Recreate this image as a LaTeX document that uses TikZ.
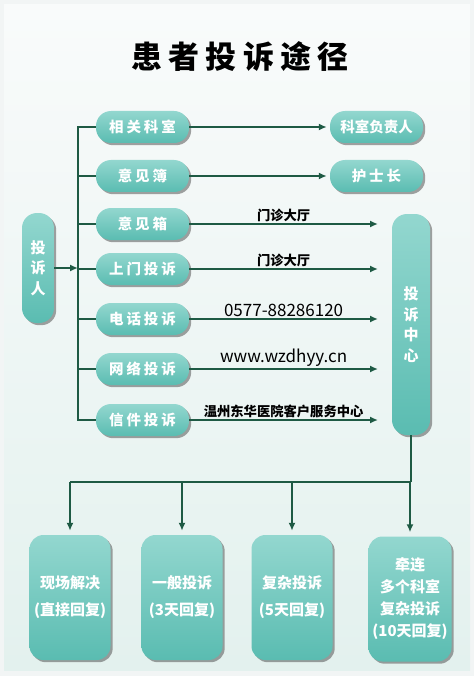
\documentclass[tikz,border=0pt]{standalone}
\usepackage{fontspec}
\setmainfont{Noto Sans CJK SC}
\newfontfamily\widecjk{Noto Sans CJK SC}[LetterSpace=20]
\usetikzlibrary{arrows.meta,shadows}
\definecolor{linkgreen}{HTML}{1E5A44}
\definecolor{tealtop}{HTML}{93D7CF}
\definecolor{tealbot}{HTML}{5ABCB1}
\definecolor{bgtop}{HTML}{F9FBFB}
\definecolor{bgbot}{HTML}{E3F1EE}
\definecolor{bgedge}{HTML}{F2F5F5}
\tikzset{>={Latex[length=8pt,width=7pt]},
    link/.style={draw=linkgreen, line width=1.6pt},
    tealfill/.style={top color=tealtop, bottom color=tealbot, draw=none, text=white,
      drop shadow={shadow xshift=2.2pt, shadow yshift=-2.2pt, fill=black!72}}}

\begin{document}
\begin{tikzpicture}[x=1pt, y=-1pt,
    pill/.style={tealfill, rounded corners=15pt, minimum width=93pt, minimum height=32pt,
      inner sep=0pt, font=\widecjk\bfseries\fontsize{14.5}{17}\selectfont},
    bar/.style={tealfill, rounded corners=15pt, inner sep=0pt, align=center,
      font=\bfseries\fontsize{15}{20.5}\selectfont},
    box/.style={tealfill, rounded corners=14pt, minimum width=81pt, minimum height=125pt,
      inner sep=0pt, align=center, font=\bfseries\fontsize{15}{22}\selectfont},
    tag/.style={text=black, inner sep=1.5pt, font=\bfseries\fontsize{13.3}{15}\selectfont}]
  \useasboundingbox (0,0) rectangle (474,676);
  \fill[bgedge] (0,0) rectangle (474,676);
  \shade[top color=bgtop, bottom color=bgbot] (4,5) rectangle (470,670);
  \node[font=\widecjk\bfseries\fontsize{31}{36}\selectfont] (title) at (240,57) {患者投诉途径};
  % ways of complaining
  \node[pill] (r1) at (142.5,127) {相关科室};
  \node[pill] (r2) at (142.5,176) {意见簿};
  \node[pill] (r3) at (142.5,224) {意见箱};
  \node[pill] (r4) at (142.5,269) {上门投诉};
  \node[pill] (r5) at (142.5,319) {电话投诉};
  \node[pill] (r6) at (142.5,369) {网络投诉};
  \node[pill] (r7) at (142.5,420) {信件投诉};
  \node[pill, font=\bfseries\fontsize{14.5}{17}\selectfont] (s1) at (376.5,127) {科室负责人};
  \node[pill] (s2) at (376.5,176) {护士长};
  \node[bar, minimum width=32pt, minimum height=110pt] (person) at (38,268) {投\\诉\\人};
  \node[bar, minimum width=38pt, minimum height=221pt] (hub) at (411,324.5) {投\\诉\\中\\心};
  % outcomes
  \node[box] (b1) at (70,597.5) {现场解决\\[5pt](直接回复)};
  \node[box] (b2) at (182,597.5) {一般投诉\\[5pt](3天回复)};
  \node[box] (b3) at (292,597.5) {复杂投诉\\[5pt](5天回复)};
  \node[box, minimum width=83pt, font=\bfseries\fontsize{15}{22}\selectfont] (b4) at (410,599) {牵连\\多个科室\\复杂投诉\\(10天回复)};
  % trunk on the left
  \coordinate (trunk) at (78,0);
  \coordinate (inlet) at (378,0);
  \draw[link] (r1.west) -| (trunk|-r7.west) -- (r7.west);
  \foreach \r in {r2,r3,r4,r5,r6}
    \draw[link] (trunk|-\r.west) -- (\r.west);
  \draw[link, ->] (person.east) -- (trunk|-person.east);
  \draw[link, ->, shorten >=3pt] (r1) -- (s1);
  \draw[link, ->, shorten >=3pt] (r2) -- (s2);
  % into the complaint centre
  \draw[link, ->] (r3.east) -- (inlet|-r3.east) node[tag, midway, above] {门诊大厅};
  \draw[link, ->] (r4.east) -- (inlet|-r4.east) node[tag, midway, above] {门诊大厅};
  \draw[link, ->] (r5.east) -- (inlet|-r5.east)
    node[tag, midway, above, font=\fontsize{17}{19}\selectfont] {0577-88286120};
  \draw[link, ->] (r6.east) -- (inlet|-r6.east)
    node[tag, midway, above, font=\fontsize{17}{19}\selectfont] {www.wzdhyy.cn};
  \draw[link, ->] (r7.east) -- (inlet|-r7.east) node[tag, midway, above] {温州东华医院客户服务中心};
  % down to the outcomes
  \draw[link] (hub.south) -- ++(0,47) coordinate (split);
  \draw[link] (split) -- (split-|b1.north);
  \foreach \b in {b1,b2,b3,b4}
    \draw[link, ->, shorten >=4pt] (split-|\b.north) -- (\b.north);
\end{tikzpicture}
\end{document}
